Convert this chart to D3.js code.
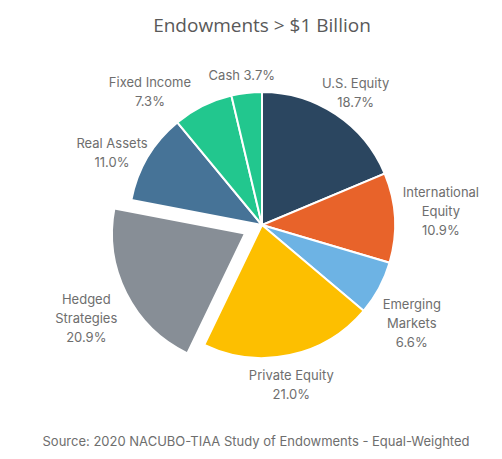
<!DOCTYPE html>
<html>
<head>
<meta charset="utf-8">
<script src="https://cdn.jsdelivr.net/npm/d3@7"></script>
<style>
  body { margin: 0; background: #fff; }
  svg { display: block; }
</style>
</head>
<body>
<div id="chart"></div>
<script>
// Data.
var categories = ['U.S. Equity', 'International\nEquity', 'Emerging\nMarkets', 'Private Equity',
                  'Hedged\nStrategies', 'Real Assets', 'Fixed Income', 'Cash'];
var shares = [18.7, 10.9, 6.6, 21.0, 20.9, 11.0, 7.3, 3.7];
var colors = ['#2b4660', '#e8632a', '#6db3e4', '#fdbf00', '#878e96', '#467397', '#22c78e', '#22c78e'];
var exploded = 'Hedged\nStrategies';
var inlineValue = 'Cash';

var titleText = 'Endowments > $1 Billion';
var sourceText = 'Source: 2020 NACUBO-TIAA Study of Endowments - Equal-Weighted';

// Layout.
var width = 502, height = 459;
var cx = 262, cy = 225, radius = 133, explode = 19;
var labelGap = 8, lineH = 19;
// Excel's "best fit" nudges for a few labels
var labelNudge = {
    'Emerging\nMarkets': [0, 18],
    'Private Equity': [-9, 3],
    'Real Assets': [2, 10],
    'Fixed Income': [-31, 10],
    'Hedged\nStrategies': [-5, 9],
    'International\nEquity': [0, -4],
    'U.S. Equity': [-3, 1]
};

var svg = d3.select('#chart').append('svg')
    .attr('width', width)
    .attr('height', height);

svg.append('text')
    .attr('x', cx)
    .attr('y', 25)
    .attr('text-anchor', 'middle')
    .attr('dominant-baseline', 'central')
    .style('font-family', '"Open Sans", sans-serif')
    .style('font-size', '19px')
    .style('fill', '#595959')
    .text(titleText);

var table = categories.map(function(c, i) {
    return { name: c, value: shares[i], color: colors[i] };
});

var pie = d3.pie().sort(null).value(function(d) { return d.value; });
var arc = d3.arc().innerRadius(0).outerRadius(radius);
var arcs = pie(table);

var g = svg.append('g')
    .attr('transform', 'translate(' + cx + ',' + cy + ')');

function offsetOf(d) {
    if (d.data.name !== exploded) return [0, 0];
    var a = (d.startAngle + d.endAngle) / 2;
    return [Math.sin(a) * explode, -Math.cos(a) * explode];
}

g.selectAll('path')
    .data(arcs)
    .enter()
    .append('path')
    .attr('d', arc)
    .attr('transform', function(d) {
        var o = offsetOf(d);
        return 'translate(' + o[0] + ',' + o[1] + ')';
    })
    .attr('fill', function(d) { return d.data.color; })
    .attr('stroke', '#fff')
    .attr('stroke-width', 2);

// Labels
var labels = g.selectAll('g.label')
    .data(arcs)
    .enter()
    .append('g')
    .attr('class', 'label');

labels.each(function(d) {
    var sel = d3.select(this);
    var pct = d3.format('.1f')(d.data.value) + '%';
    var lines = d.data.name === inlineValue
        ? [d.data.name + ' ' + pct]
        : d.data.name.split('\n').concat([pct]);
    var t = sel.append('text')
        .attr('text-anchor', 'middle')
        .style('font-family', 'Inter, "Noto Sans", sans-serif')
        .style('font-size', '13px')
        .style('fill', '#6e6e6e');
    lines.forEach(function(l, i) {
        t.append('tspan')
            .attr('x', 0)
            .attr('y', (i - (lines.length - 1) / 2) * lineH)
            .attr('dy', '0.35em')
            .text(l);
    });
    var bb = t.node().getBBox();
    var w = bb.width, h = lines.length * lineH;
    var a = (d.startAngle + d.endAngle) / 2;
    var o = offsetOf(d);
    var r = radius + labelGap;
    var nx = (labelNudge[d.data.name] || [0, 0]);
    var x = o[0] + Math.sin(a) * r + Math.sin(a) * w / 2 + nx[0];
    var y = o[1] - Math.cos(a) * r - Math.cos(a) * h / 2 + nx[1];
    sel.attr('transform', 'translate(' + x + ',' + y + ')');
});

svg.append('text')
    .attr('x', 256)
    .attr('y', 441)
    .attr('text-anchor', 'middle')
    .attr('dominant-baseline', 'central')
    .style('font-family', 'Inter, "Noto Sans", sans-serif')
    .style('font-size', '13px')
    .style('fill', '#6e6e6e')
    .text(sourceText);
</script>
</body>
</html>
